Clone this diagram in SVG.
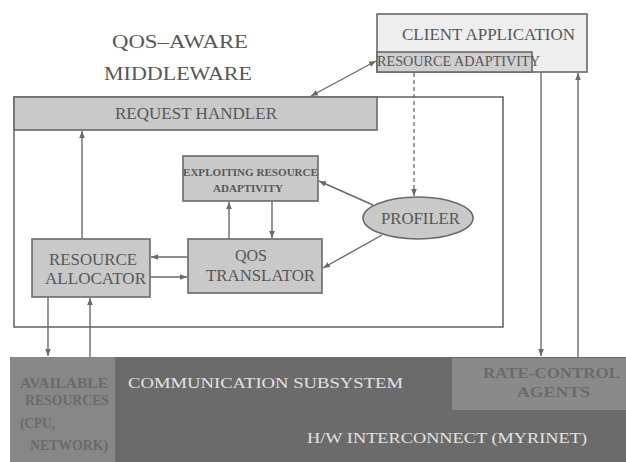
<svg xmlns="http://www.w3.org/2000/svg" width="626" height="462" viewBox="0 0 626 462">
  <style>
    .box { fill: #c9c9c9; stroke: #6a6a6a; stroke-width: 1.6; }
    .frame { fill: none; stroke: #6a6a6a; stroke-width: 1.6; }
    .t { font-family: "Liberation Serif", "Times New Roman", serif; fill: #575757; }
    .line { fill: none; stroke: #6a6a6a; stroke-width: 1.4; }
    .dash { fill: none; stroke: #6a6a6a; stroke-width: 1.3; stroke-dasharray: 4 3; }
    .hw { font-family: "Liberation Serif", "Times New Roman", serif; fill: #e2e2e2; }
    .faint { font-family: "Liberation Serif", "Times New Roman", serif; fill: #6a6a6a; font-weight: bold; }
  </style>
  <defs>
    <marker id="arr" viewBox="0 0 10 10" refX="10" refY="5" markerWidth="7" markerHeight="7" markerUnits="userSpaceOnUse" orient="auto-start-reverse">
      <path d="M0,1 L10,5 L0,9 z" fill="#6a6a6a"/>
    </marker>
  </defs>

  <rect x="0" y="0" width="626" height="462" fill="#ffffff"/>

  <!-- title -->
  <g id="title">
    <text class="t" x="112" y="48" font-size="19" textLength="136" lengthAdjust="spacingAndGlyphs">QOS–AWARE</text>
    <text class="t" x="104" y="80" font-size="19" textLength="148" lengthAdjust="spacingAndGlyphs">MIDDLEWARE</text>
  </g>

  <!-- middleware frame -->
  <g id="middleware">
    <rect class="frame" x="14" y="97" width="489" height="230"/>
  </g>

  <!-- request handler -->
  <g id="request-handler">
    <rect class="box" x="14" y="97" width="363" height="33"/>
    <text class="t" x="115" y="119" font-size="16" textLength="162" lengthAdjust="spacingAndGlyphs">REQUEST HANDLER</text>
  </g>

  <!-- client application -->
  <g id="client-application">
    <rect x="377" y="14" width="210" height="58" fill="#eeeeee" stroke="#6a6a6a" stroke-width="1.6"/>
    <text class="t" x="402" y="40" font-size="17" textLength="173" lengthAdjust="spacingAndGlyphs">CLIENT APPLICATION</text>
  </g>

  <g id="resource-adaptivity">
    <rect x="377" y="52" width="155" height="20" fill="#cfcfcf" stroke="#6a6a6a" stroke-width="1.6"/>
    <text class="t" x="377" y="66" font-size="15" textLength="163" lengthAdjust="spacingAndGlyphs">RESOURCE ADAPTIVITY</text>
  </g>

  <!-- exploiting resource adaptivity -->
  <g id="exploiting">
    <rect class="box" x="183" y="156" width="135" height="45"/>
    <text class="t" x="183" y="176" font-size="10.5" font-weight="bold" textLength="135" lengthAdjust="spacingAndGlyphs">EXPLOITING RESOURCE</text>
    <text class="t" x="213" y="192" font-size="10.5" font-weight="bold" textLength="70" lengthAdjust="spacingAndGlyphs">ADAPTIVITY</text>
  </g>

  <!-- qos translator -->
  <g id="qos-translator">
    <rect class="box" x="188" y="239" width="134" height="54"/>
    <text class="t" x="235" y="261" font-size="17" textLength="32" lengthAdjust="spacingAndGlyphs">QOS</text>
    <text class="t" x="206" y="281" font-size="17" textLength="109" lengthAdjust="spacingAndGlyphs">TRANSLATOR</text>
  </g>

  <!-- resource allocator -->
  <g id="resource-allocator">
    <rect class="box" x="32" y="239" width="118" height="58"/>
    <text class="t" x="49" y="265" font-size="17" textLength="88" lengthAdjust="spacingAndGlyphs">RESOURCE</text>
    <text class="t" x="45" y="284" font-size="17" textLength="101" lengthAdjust="spacingAndGlyphs">ALLOCATOR</text>
  </g>

  <!-- profiler -->
  <g id="profiler">
    <ellipse class="box" cx="418" cy="218" rx="55" ry="21"/>
    <text class="t" x="381" y="224" font-size="16" textLength="79" lengthAdjust="spacingAndGlyphs">PROFILER</text>
  </g>

  <!-- communication subsystem -->
  <g id="communication-subsystem">
    <rect x="10" y="357" width="616" height="105" fill="#6b6b6b"/>
    <text class="hw" x="128" y="388" font-size="14.5" textLength="275" lengthAdjust="spacingAndGlyphs">COMMUNICATION SUBSYSTEM</text>
    <text class="hw" x="307" y="443" font-size="14.5" textLength="280" lengthAdjust="spacingAndGlyphs">H/W INTERCONNECT (MYRINET)</text>
  </g>

  <g id="available-resources">
    <rect x="10" y="357" width="105" height="105" fill="#878787"/>
    <text class="faint" x="20" y="388" font-size="14" textLength="88" lengthAdjust="spacingAndGlyphs">AVAILABLE</text>
    <text class="faint" x="25" y="405" font-size="14" textLength="84" lengthAdjust="spacingAndGlyphs">RESOURCES</text>
    <text class="faint" x="20" y="428" font-size="14" textLength="35" lengthAdjust="spacingAndGlyphs">(CPU,</text>
    <text class="faint" x="30" y="450" font-size="14" textLength="78" lengthAdjust="spacingAndGlyphs">NETWORK)</text>
  </g>

  <g id="rate-control-agents">
    <rect x="452" y="358" width="174" height="52" fill="#8a8a8a"/>
    <text class="faint" x="483" y="378" font-size="14" textLength="137" lengthAdjust="spacingAndGlyphs">RATE-CONTROL</text>
    <text class="faint" x="517" y="397" font-size="14" textLength="73" lengthAdjust="spacingAndGlyphs">AGENTS</text>
  </g>

  <!-- connectors -->
  <g id="connectors">
    <line class="line" x1="82" y1="239" x2="82" y2="131" marker-end="url(#arr)"/>
    <line class="line" x1="376" y1="61" x2="311" y2="96" marker-start="url(#arr)" marker-end="url(#arr)"/>
    <line class="dash" x1="414" y1="73" x2="414" y2="196" marker-end="url(#arr)"/>
    <line class="line" x1="229" y1="239" x2="229" y2="202" marker-end="url(#arr)"/>
    <line class="line" x1="272" y1="201" x2="272" y2="238" marker-end="url(#arr)"/>
    <line class="line" x1="188" y1="257" x2="151" y2="257" marker-end="url(#arr)"/>
    <line class="line" x1="150" y1="277" x2="187" y2="277" marker-end="url(#arr)"/>
    <line class="line" x1="373" y1="205" x2="319" y2="181" marker-end="url(#arr)"/>
    <line class="line" x1="382" y1="235" x2="323" y2="268" marker-end="url(#arr)"/>
    <line class="line" x1="48" y1="297" x2="48" y2="356" marker-end="url(#arr)"/>
    <line class="line" x1="90" y1="357" x2="90" y2="298" marker-end="url(#arr)"/>
    <line class="line" x1="541" y1="72" x2="541" y2="356" marker-end="url(#arr)"/>
    <line class="line" x1="578" y1="357" x2="578" y2="73" marker-end="url(#arr)"/>
  </g>
</svg>
